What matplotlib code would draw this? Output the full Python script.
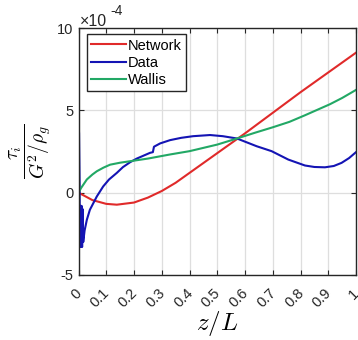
import matplotlib
matplotlib.use("Agg")
import matplotlib.pyplot as plt
import matplotlib.transforms as mtransforms

plt.rcParams['font.family'] = ['Liberation Sans', 'DejaVu Sans']
plt.rcParams['mathtext.fontset'] = 'cm'

# values in units of 1e-4
net_z = [0, 0.05, 0.1, 0.138, 0.2, 0.25, 0.3, 0.35, 0.4, 0.45, 0.5, 0.6, 0.7, 0.8, 0.9, 1.0]
net_v = [0, -0.45, -0.68, -0.73, -0.6, -0.3, 0.1, 0.6, 1.2, 1.8, 2.4, 3.6, 4.85, 6.1, 7.3, 8.5]

wal_z = [0, 0.01, 0.03, 0.05, 0.066, 0.09, 0.114, 0.15, 0.186, 0.25, 0.33, 0.4, 0.5, 0.571,
         0.636, 0.7, 0.76, 0.816, 0.906, 0.95, 1.0]
wal_v = [0, 0.3, 0.8, 1.1, 1.3, 1.52, 1.7, 1.82, 1.91, 2.07, 2.32, 2.52, 2.92, 3.29,
         3.64, 3.97, 4.3, 4.7, 5.37, 5.75, 6.24]

dat_z = [0, 0.002, 0.004, 0.005, 0.007, 0.009, 0.011, 0.013, 0.015, 0.017, 0.022, 0.03, 0.041,
         0.066, 0.089, 0.11, 0.138, 0.16, 0.186, 0.21, 0.258, 0.268, 0.272, 0.294, 0.33, 0.37,
         0.413, 0.474, 0.52, 0.571, 0.642, 0.696, 0.756, 0.816, 0.85, 0.888, 0.92, 0.948,
         0.975, 1.0]
dat_v = [4.3, 3.6, 0.5, -3.3, -0.8, -3.3, -0.8, -3.3, -1.0, -3.0, -2.3, -1.65, -1.04,
         -0.23, 0.38, 0.8, 1.2, 1.55, 1.85, 2.07, 2.42, 2.46, 2.79, 2.99, 3.19, 3.33,
         3.43, 3.5, 3.43, 3.29, 2.82, 2.52, 2.01, 1.65, 1.56, 1.54, 1.62, 1.81,
         2.1, 2.46]

xticks = [0, 0.1, 0.2, 0.3, 0.4, 0.5, 0.6, 0.7, 0.8, 0.9, 1]
xticklabels = ['0', '0.1', '0.2', '0.3', '0.4', '0.5', '0.6', '0.7', '0.8', '0.9', '1']
yticks = [-5, 0, 5, 10]
yticklabels = ['-5', '0', '5', '10']

fig = plt.figure(figsize=(3.58, 3.4), dpi=100)
ax = fig.add_axes([78.5/358, 65/340, 277.5/358, 247/340])

ax.plot(net_z, net_v, color='#e02a2a', lw=1.5, label='Network')
ax.plot(dat_z, dat_v, color='#1414b4', lw=1.5, label='Data')
ax.plot(wal_z, wal_v, color='#22a865', lw=1.5, label='Wallis')

ax.set_xlim(0, 1)
ax.set_ylim(-5, 10)
ax.set_xticks(xticks)
ax.set_xticklabels(xticklabels, rotation=45, ha='right', va='top', fontsize=10.5)
ax.set_yticks(yticks)
ax.set_yticklabels(yticklabels, fontsize=10.5)
ax.tick_params(direction='in', length=3.5, width=0.8, top=True, right=True,
               colors='#262626', labelcolor='#262626')
ax.tick_params(axis='x', pad=8)
off = mtransforms.ScaledTranslation(6/100, 0, fig.dpi_scale_trans)
for lab in ax.get_xticklabels():
    lab.set_transform(lab.get_transform() + off)
ax.grid(True, color='#dedede', lw=0.9)
ax.set_axisbelow(True)
for s in ax.spines.values():
    s.set_color('#262626')
    s.set_linewidth(1.0)

ax.set_xlabel(r'$z/L$', fontsize=18, labelpad=-1)
ax.set_ylabel(r'$\dfrac{\tau_i}{G^2/\rho_g}$', fontsize=14, labelpad=2)

fig.text(80/358, 1 - 26/340, '\u00d710', fontsize=11.5, color='#262626', ha='left', va='baseline')
fig.text(110/358, 1 - 15/340, '-4', fontsize=10, color='#262626', ha='left', va='baseline')

leg = ax.legend(loc='upper left', bbox_to_anchor=(0.03, 0.975), fontsize=10.5, handlelength=2.4,
                handletextpad=0.1, labelspacing=0.22, borderpad=0.3, borderaxespad=0.0,
                fancybox=False, framealpha=1, edgecolor='#262626')
leg.get_frame().set_linewidth(1.0)

fig.savefig('out.png', dpi=100)
